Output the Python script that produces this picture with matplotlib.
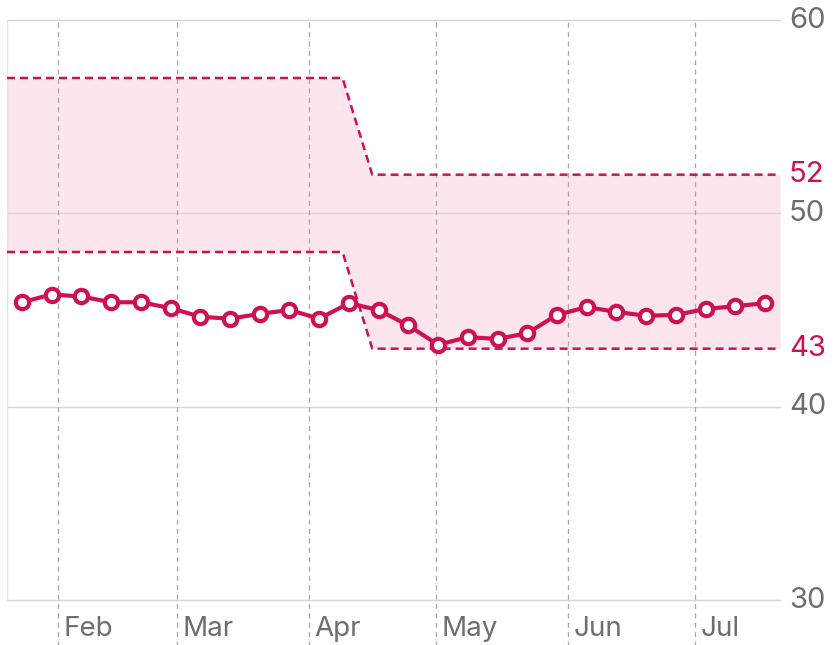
import matplotlib
matplotlib.use("Agg")
import matplotlib.pyplot as plt
import matplotlib.dates as mdates
import numpy as np

plt.rcParams['font.family'] = ['Inter', 'DejaVu Sans']

# ---- data ----
dates = np.array([
    '2023-01-23T12:00', '2023-01-30T12:00', '2023-02-06T12:00', '2023-02-13T12:00',
    '2023-02-20T12:00', '2023-02-27T12:00', '2023-03-06T12:00', '2023-03-13T12:00',
    '2023-03-20T12:00', '2023-03-27T12:00', '2023-04-03T12:00', '2023-04-10T12:00',
    '2023-04-17T12:00', '2023-04-24T12:00', '2023-05-01T12:00', '2023-05-08T12:00',
    '2023-05-15T12:00', '2023-05-22T12:00', '2023-05-29T12:00', '2023-06-05T12:00',
    '2023-06-12T12:00', '2023-06-19T12:00', '2023-06-26T12:00', '2023-07-03T12:00',
    '2023-07-10T12:00', '2023-07-17T12:00'], dtype='datetime64[m]')
values = [45.4, 45.8, 45.7, 45.4, 45.4, 45.1, 44.65, 44.55, 44.8, 45.0, 44.55, 45.35,
          45.0, 44.2, 43.2, 43.6, 43.5, 43.8, 44.75, 45.15, 44.9, 44.7, 44.75, 45.05,
          45.2, 45.35]

band_dates = np.array(['2023-01-20', '2023-04-09', '2023-04-16', '2023-07-21'],
                      dtype='datetime64[m]')
band_upper = [57, 57, 52, 52]
band_lower = [48, 48, 43, 43]

month_ticks = np.array(['2023-02-01', '2023-03-01', '2023-04-01', '2023-05-01',
                        '2023-06-01', '2023-07-01'], dtype='datetime64[m]')
month_labels = ['Feb', 'Mar', 'Apr', 'May', 'Jun', 'Jul']

y_ticks = [30, 40, 50, 60]
range_labels = [52, 43]

x_start = np.datetime64('2023-01-20', 'm')
x_end = np.datetime64('2023-07-21', 'm')

# ---- style ----
crimson = '#CE1150'
pink = '#FCE5ED'
grid_c = '#D6D6D6'
text_c = '#6E6E6E'

W, H = 833, 645
fig = plt.figure(figsize=(W / 100, H / 100), dpi=100)
ax = fig.add_axes([7 / W, 1 - 600 / H, (780 - 7) / W, 580 / H])

num = lambda a: mdates.date2num(a.astype('O'))

ax.set_xlim(num(x_start), num(x_end))
ax.set_ylim(30, 60)
for s in ax.spines.values():
    s.set_visible(False)
ax.set_xticks([])
ax.set_yticks([])

# band
bd = num(band_dates)
ax.fill_between(bd, band_lower, band_upper, color=pink, lw=0, zorder=1)
ax.plot(bd, band_upper, color=crimson, lw=1.8, dashes=(3.2, 2.0), zorder=3)
ax.plot(bd, band_lower, color=crimson, lw=1.8, dashes=(3.2, 2.0), zorder=3)

# horizontal gridlines
for yv in y_ticks:
    ax.axhline(yv, color=grid_c, lw=1.0, zorder=2, clip_on=False)
# left edge line
ax.axvline(num(x_start), color='#E4E4E4', lw=1.0, zorder=2)

# vertical dashed month lines, extending into label area
mt = num(month_ticks)
ax.vlines(mt, -0.08, 1.0, transform=ax.get_xaxis_transform(), colors='#A8A8A8',
          lw=0.9, linestyles=(0, (4, 3.5)), clip_on=False, zorder=2)

# month labels
for d, lab in zip(mt, month_labels):
    ax.annotate(lab, xy=(d, 0), xycoords=ax.get_xaxis_transform(),
                xytext=(6, -29), textcoords='offset pixels',
                ha='left', va='center', fontsize=20, color=text_c)

# y labels on the right
for yv in y_ticks:
    ax.annotate(str(yv), xy=(1, yv), xycoords=ax.get_yaxis_transform(),
                xytext=(9, 0), textcoords='offset pixels',
                ha='left', va='center', fontsize=21, color=text_c)
for yv in range_labels:
    ax.annotate(str(yv), xy=(1, yv), xycoords=ax.get_yaxis_transform(),
                xytext=(9, 0), textcoords='offset pixels',
                ha='left', va='center', fontsize=21, color=crimson)

# data line
ax.plot(num(dates), values, color=crimson, lw=3.0, marker='o',
        markersize=9.6, markerfacecolor='white', markeredgecolor=crimson,
        markeredgewidth=3.0, zorder=5, clip_on=False)

fig.savefig('out.png', dpi=100)
